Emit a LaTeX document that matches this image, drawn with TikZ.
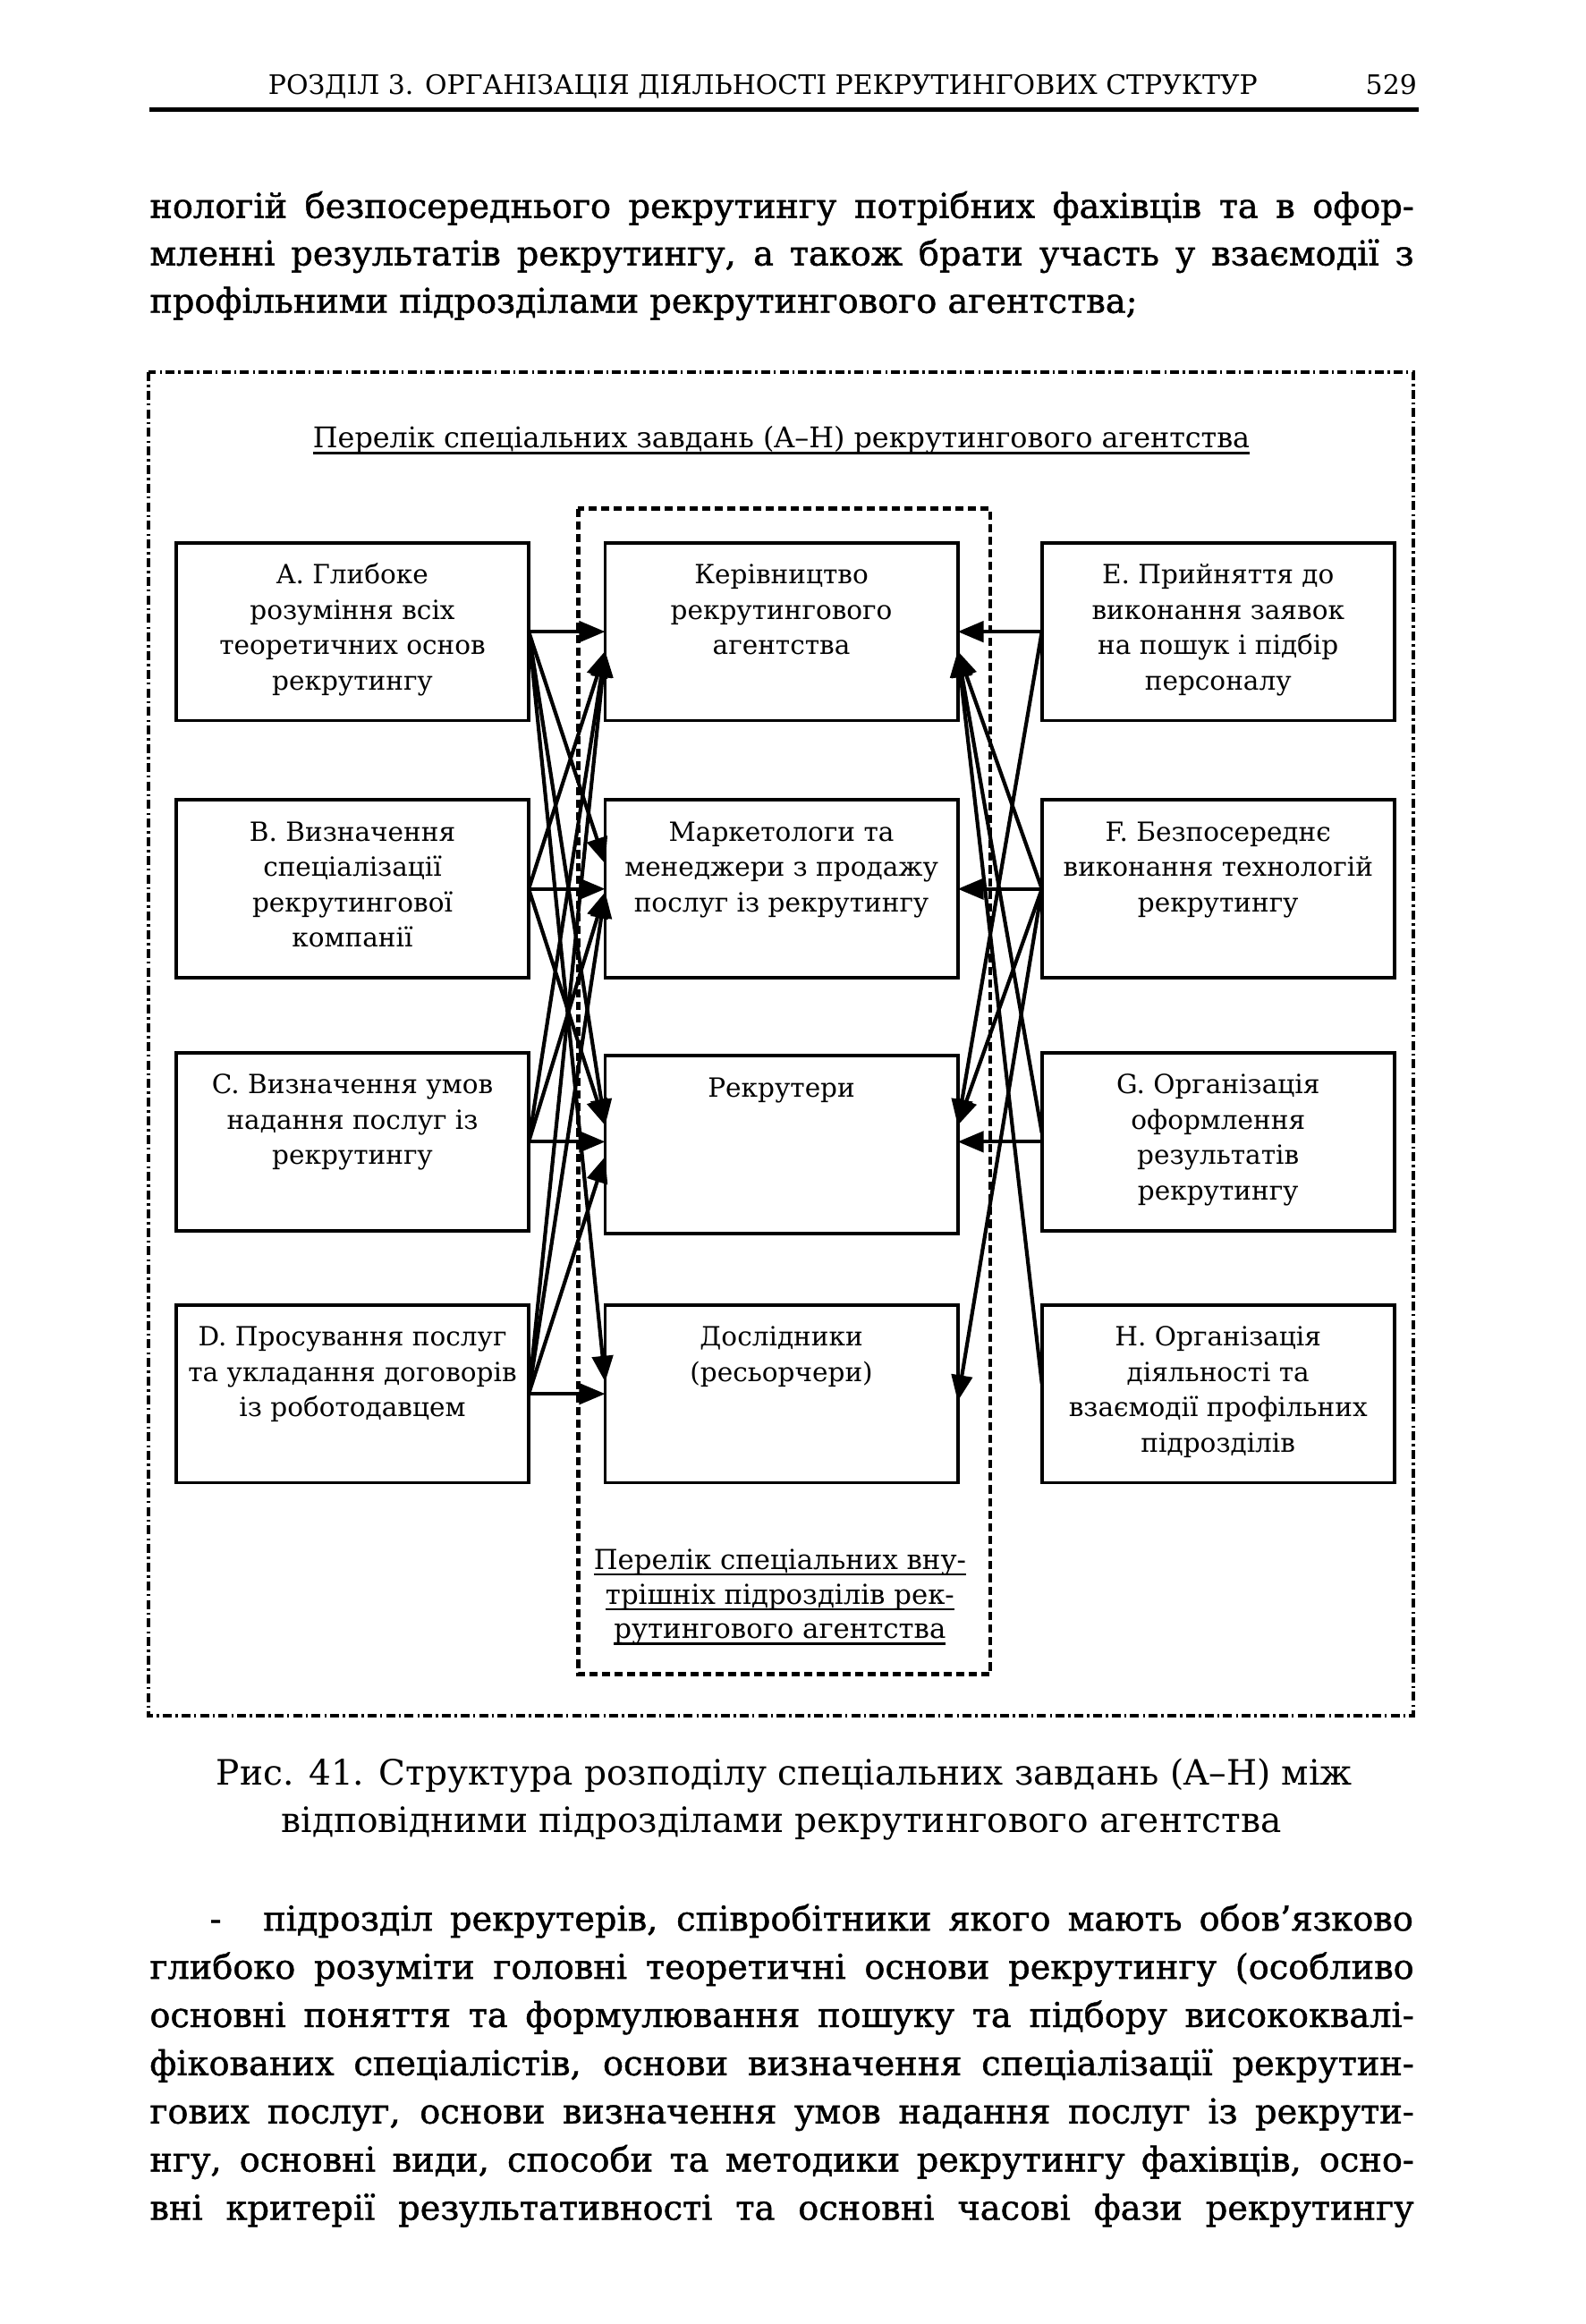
\documentclass[tikz,border=0pt]{standalone}
\usepackage{fontspec}
\setmainfont{DejaVu Serif}
\newfontfamily\bodyfnt[FakeBold=1.2]{DejaVu Serif}
\newfontfamily\plainfnt{DejaVu Serif}
\usetikzlibrary{arrows.meta,calc}

\newlength\linew
\setlength\linew{11.942cm}
\newcommand{\jline}[2]{\makebox[#1][s]{#2}}
\newcommand{\boxtext}[1]{\parbox[t][1.68cm][t]{3.33cm}{\centering\fontsize{7.1}{9.5}\selectfont\rule{0pt}{11pt}#1}}
\newcommand{\ulined}[1]{\setbox0\hbox{#1}\rlap{\rule[-1.7pt]{\wd0}{0.6pt}}\box0}

\tikzset{
    task/.style={draw, line width=0.9pt, inner sep=0pt, outer sep=0pt},
    link/.style={line width=1pt, -{Triangle[length=7pt,width=5.6pt]}},
    pageline/.style={anchor=base west, inner sep=0pt},
}

\begin{document}
\begin{tikzpicture}[x=0.014cm,y=-0.014cm]
\useasboundingbox (0,0) rectangle (1069,1567.3);

% Header
\node[pageline, anchor=base] (head) at (514.5,63.5) {\plainfnt\fontsize{7.2}{8}\selectfont РОЗДІЛ 3. ОРГАНІЗАЦІЯ ДІЯЛЬНОСТІ РЕКРУТИНГОВИХ СТРУКТУР};
\node[pageline, anchor=base east] (pagenum) at (956,63.5) {\plainfnt\fontsize{7.2}{8}\selectfont 529};
\draw[line width=1.2pt] (100.5,74) -- (957,74);

% Text above the figure
\begin{scope}[every node/.append style={font=\bodyfnt\fontsize{9.2}{12}\selectfont}]
\node[pageline] (top1) at (100.5,147) {\jline{\linew}{нологій безпосереднього рекрутингу потрібних фахівців та в офор-}};
\node[pageline] (top2) at (100.5,179) {\jline{\linew}{мленні результатів рекрутингу, а також брати участь у взаємодії з}};
\node[pageline] (top3) at (100.5,211) {профільними підрозділами рекрутингового агентства;};
\end{scope}

% Frames
\draw[line width=1pt, dash pattern=on 2.4pt off 1pt on 0.6pt off 1pt] (100,251) rectangle (953,1157);
\draw[line width=1pt, dash pattern=on 2.2pt off 1.2pt] (390,343) rectangle (668,1129);

\node[anchor=base, inner sep=0pt] (title) at (527,302) {\fontsize{7.65}{9}\selectfont\ulined{Перелік спеціальних завдань (A–H) рекрутингового агентства}};
\node[align=center, inner sep=0pt, font=\fontsize{7.4}{9.3}\selectfont] (innertitle) at (526,1077) {\ulined{Перелік спеціальних вну-}\\\ulined{трішніх підрозділів рек-}\\\ulined{рутингового агентства}};

% Tasks A-D
\node[task] (A) at (237.7,426) {\boxtext{A. Глибоке\\розуміння всіх\\теоретичних основ\\рекрутингу}};
\node[task] (B) at (237.7,599.5) {\boxtext{B. Визначення\\спеціалізації\\рекрутингової\\компанії}};
\node[task] (C) at (237.7,770) {\boxtext{C. Визначення умов\\надання послуг із\\рекрутингу}};
\node[task] (D) at (237.7,940) {\boxtext{D. Просування послуг\\та укладання договорів\\із роботодавцем}};

% Internal units
\node[task] (kerivn) at (527,426) {\boxtext{Керівництво\\рекрутингового\\агентства}};
\node[task] (market) at (527,599.5) {\boxtext{Маркетологи та\\менеджери з продажу\\послуг із рекрутингу}};
\node[task] (rekr) at (527,772) {\boxtext{Рекрутери}};
\node[task] (doslid) at (527,940) {\boxtext{Дослідники\\(ресьорчери)}};

% Tasks E-H
\node[task] (E) at (821.5,426) {\boxtext{E. Прийняття до\\виконання заявок\\на пошук і підбір\\персоналу}};
\node[task] (F) at (821.5,599.5) {\boxtext{F. Безпосереднє\\виконання технологій\\рекрутингу}};
\node[task] (G) at (821.5,770) {\boxtext{G. Організація\\оформлення\\результатів\\рекрутингу}};
\node[task] (H) at (821.5,940) {\boxtext{H. Організація\\діяльності та\\взаємодії профільних\\підрозділів}};

% Arrows from the left
\draw[link] (A.east) -- (kerivn.west);
\draw[link] (A.east) -- ($(market.west)+(0,-17)$);
\draw[link] (A.east) -- ($(rekr.west)+(0,-13)$);
\draw[link] (A.east) -- ($(doslid.west)+(0,-8)$);
\draw[link] (B.east) -- ($(kerivn.west)+(0,13)$);
\draw[link] (B.east) -- (market.west);
\draw[link] (B.east) -- ($(rekr.west)+(0,-13)$);
\draw[link] (C.east) -- ($(kerivn.west)+(0,13)$);
\draw[link] (C.east) -- ($(market.west)+(0,2)$);
\draw[link] (C.east) -- (C.east -| rekr.west);
\draw[link] (D.east) -- ($(kerivn.west)+(0,13)$);
\draw[link] (D.east) -- ($(market.west)+(0,2)$);
\draw[link] (D.east) -- ($(rekr.west)+(0,8)$);
\draw[link] (D.east) -- (doslid.west);

% Arrows from the right
\draw[link] (E.west) -- (kerivn.east);
\draw[link] (E.west) -- ($(rekr.east)+(0,-13)$);
\draw[link] (F.west) -- ($(kerivn.east)+(0,13)$);
\draw[link] (F.west) -- (market.east);
\draw[link] (F.west) -- ($(rekr.east)+(0,-13)$);
\draw[link] (F.west) -- ($(doslid.east)+(0,5)$);
\draw[link] ($(G.west)+(0,-6)$) -- ($(kerivn.east)+(0,13)$);
\draw[link] (G.west) -- (G.west -| rekr.east);
\draw[link] ($(H.west)+(0,-7)$) -- ($(kerivn.east)+(0,13)$);

% Caption
\node[anchor=base, inner sep=0pt] (cap1) at (529,1204) {\plainfnt\fontsize{9.4}{12}\selectfont Рис. 41. Структура розподілу спеціальних завдань (A–H) між};
\node[anchor=base, inner sep=0pt] (cap2) at (527,1236) {\plainfnt\fontsize{9.4}{12}\selectfont відповідними підрозділами рекрутингового агентства};

% Text below the figure
\begin{scope}[every node/.append style={font=\bodyfnt\fontsize{9.2}{12}\selectfont}]
\node[pageline] (dash) at (141,1302) {-};
\node[pageline] (low1) at (177,1302) {\jline{10.864cm}{підрозділ рекрутерів, співробітники якого мають обов’язково}};
\node[pageline] (low2) at (100.5,1334.5) {\jline{\linew}{глибоко розуміти головні теоретичні основи рекрутингу (особливо}};
\node[pageline] (low3) at (100.5,1367) {\jline{\linew}{основні поняття та формулювання пошуку та підбору висококвалі-}};
\node[pageline] (low4) at (100.5,1399.5) {\jline{\linew}{фікованих спеціалістів, основи визначення спеціалізації рекрутин-}};
\node[pageline] (low5) at (100.5,1432) {\jline{\linew}{гових послуг, основи визначення умов надання послуг із рекрути-}};
\node[pageline] (low6) at (100.5,1464.5) {\jline{\linew}{нгу, основні види, способи та методики рекрутингу фахівців, осно-}};
\node[pageline] (low7) at (100.5,1497) {\jline{\linew}{вні критерії результативності та основні часові фази рекрутингу}};
\end{scope}

\end{tikzpicture}
\end{document}
